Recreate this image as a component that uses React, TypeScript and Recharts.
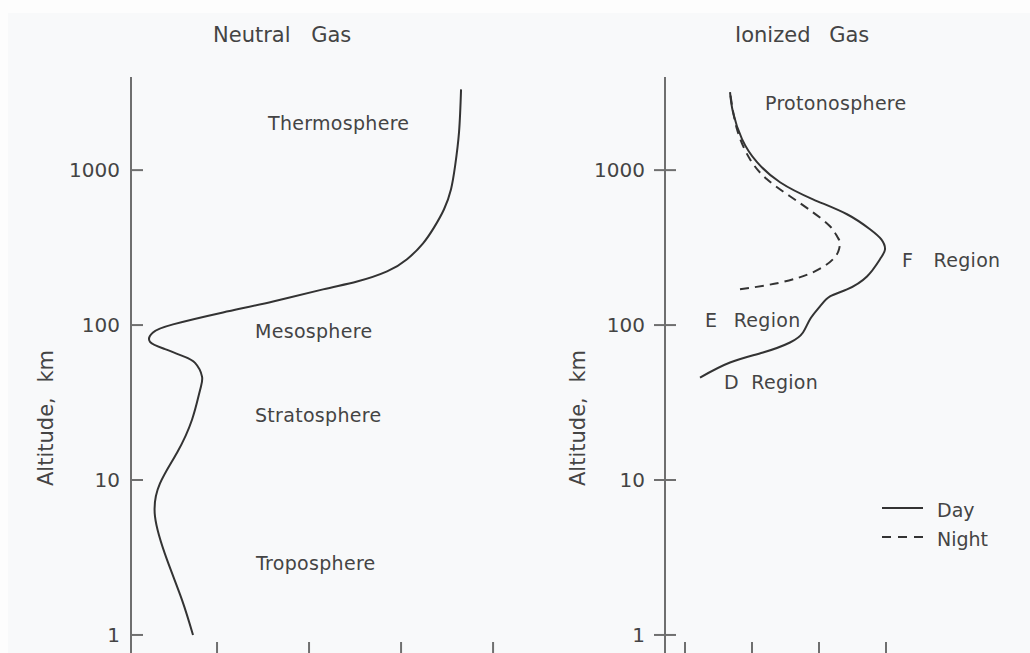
import React from "react";
import { ScatterChart, Scatter, XAxis, YAxis, Legend } from "recharts";

const FONT = "'DejaVu Sans', Verdana, sans-serif";
const INK = "#333333";
const AXIS = "#6f6f6f";
const TEXT = "#444444";

// altitude axis shared by both panels (km, log scale)
const ALT_TICKS = [1, 10, 100, 1000];
const ALT_DOMAIN: [number, number] = [0.7315, 3990];

// neutral gas temperature, measured in bottom-tick spacings
const NEUTRAL_ALT = [
  1, 1.68, 3.05, 5.8, 9.5, 15, 24.5, 38, 46.5, 57, 63, 70, 78, 89.6, 101, 120.6,
  142, 170, 191, 222, 266, 337, 427, 559, 753, 1060, 1757, 3320,
];
const NEUTRAL_TEMP = [
  0.739, 0.62, 0.457, 0.326, 0.38, 0.565, 0.728, 0.815, 0.837, 0.761, 0.63,
  0.435, 0.272, 0.304, 0.522, 1.065, 1.609, 2.152, 2.522, 2.848, 3.065, 3.239,
  3.359, 3.467, 3.543, 3.587, 3.63, 3.652,
];
const NEUTRAL_XTICKS = [1, 2, 3, 4];
const NEUTRAL_XDOMAIN: [number, number] = [0.065, 4.51];

// electron density (log decades from the first bottom tick)
const DAY_ALT = [
  45.8, 57.3, 66.5, 77.2, 89.6, 109, 132, 153, 170, 206, 266, 308, 357, 415,
  519, 648, 835, 1125, 1585, 2367, 3190,
];
const DAY_DENSITY = [
  0.224, 0.672, 1.164, 1.567, 1.761, 1.866, 2.015, 2.164, 2.418, 2.716, 2.91,
  2.985, 2.93, 2.761, 2.418, 1.91, 1.418, 1.075, 0.851, 0.716, 0.672,
];
const NIGHT_ALT = [170, 188, 219, 266, 310, 345, 374, 434, 534, 678, 873, 1176, 1838, 3190];
const NIGHT_DENSITY = [
  0.821, 1.418, 1.91, 2.209, 2.3, 2.31, 2.269, 2.164, 1.91, 1.567, 1.224, 0.97,
  0.776, 0.672,
];
const ION_XTICKS = [0, 1, 2, 3];
const ION_XDOMAIN: [number, number] = [-0.2985, 5.149];

const NEUTRAL_LABELS = ["Thermosphere", "Mesosphere", "Stratosphere", "Troposphere"];
const ION_LABELS = ["Protonosphere", "F Region", "E Region", "D Region"];

const DASH: Record<string, string | undefined> = { Day: undefined, Night: "9 6" };

const toPoints = (alt: number[], val: number[]) =>
  alt.map((a, i) => ({ alt: a, v: val[i] }));

const neutralData = toPoints(NEUTRAL_ALT, NEUTRAL_TEMP);
const dayData = toPoints(DAY_ALT, DAY_DENSITY);
const nightData = toPoints(NIGHT_ALT, NIGHT_DENSITY);

const noDot = () => <g />;
const noLabel = () => <g />;

// y tick: short mark (inner/outer of the axis line) plus right-aligned number
const altTick = (inner: number, outer: number, gap: number) => (props: any) => {
  const { x, y, payload } = props;
  return (
    <g>
      <line x1={x - outer} x2={x + inner} y1={y} y2={y} stroke={AXIS} strokeWidth={2} />
      <text
        x={x - gap}
        y={y + 7}
        textAnchor="end"
        fontSize={20}
        fontFamily={FONT}
        fill={TEXT}
      >
        {payload.value}
      </text>
    </g>
  );
};

const KeyContent = ({ payload }: any) => (
  <svg width={120} height={56} style={{ display: "block" }}>
    {(payload ?? []).map((p: any, i: number) => (
      <g key={p.value} transform={`translate(0, ${13 + i * 29})`}>
        <line x1={2} x2={43} y1={0} y2={0} stroke={INK} strokeWidth={2} strokeDasharray={DASH[p.value] ? "9 7" : undefined} />
        <text x={57} y={9} fontSize={19} fontFamily={FONT} fill={TEXT}>
          {p.value}
        </text>
      </g>
    ))}
  </svg>
);

const labelStyle = { fontSize: 19, fontFamily: FONT, fill: TEXT, letterSpacing: 0.3 };

export default function App() {
  return (
    <div
      style={{
        position: "absolute",
        left: 0,
        top: 0,
        width: 1030,
        height: 653,
        overflow: "hidden",
        background: "#fdfdfd",
      }}
    >
      <div style={{ position: "absolute", left: 8, top: 13, right: 0, bottom: 0, background: "#f8f9fa" }} />

      <div style={{ position: "absolute", left: 0, top: 0 }}>
        <ScatterChart width={540} height={680} margin={{ top: 77, right: 0, bottom: 23, left: 0 }}>
          <XAxis
            type="number"
            dataKey="v"
            domain={NEUTRAL_XDOMAIN}
            ticks={NEUTRAL_XTICKS}
            allowDataOverflow
            height={1}
            tickSize={-14}
            tick={noLabel}
            stroke={AXIS}
            strokeWidth={2}
          />
          <YAxis
            type="number"
            dataKey="alt"
            scale="log"
            domain={ALT_DOMAIN}
            ticks={ALT_TICKS}
            allowDataOverflow
            width={131}
            tickSize={0}
            tickMargin={0}
            tickLine={false}
            tick={altTick(12, 0, 11)}
            stroke={AXIS}
            strokeWidth={2}
          />
          <Scatter
            name="Temperature"
            data={neutralData}
            line={{ stroke: INK, strokeWidth: 2 }}
            lineJointType="natural"
            shape={noDot}
            isAnimationActive={false}
          />
        </ScatterChart>
      </div>

      <div style={{ position: "absolute", left: 540, top: 0 }}>
        <ScatterChart width={490} height={680} margin={{ top: 77, right: 0, bottom: 23, left: 0 }}>
          <XAxis
            type="number"
            dataKey="v"
            domain={ION_XDOMAIN}
            ticks={ION_XTICKS}
            allowDataOverflow
            height={1}
            tickSize={-14}
            tick={noLabel}
            stroke={AXIS}
            strokeWidth={2}
          />
          <YAxis
            type="number"
            dataKey="alt"
            scale="log"
            domain={ALT_DOMAIN}
            ticks={ALT_TICKS}
            allowDataOverflow
            width={125}
            tickSize={0}
            tickMargin={0}
            tickLine={false}
            tick={altTick(11, 11, 20)}
            stroke={AXIS}
            strokeWidth={2}
          />
          <Scatter
            name="Day"
            data={dayData}
            line={{ stroke: INK, strokeWidth: 2 }}
            lineJointType="natural"
            shape={noDot}
            isAnimationActive={false}
          />
          <Scatter
            name="Night"
            data={nightData}
            line={{ stroke: INK, strokeWidth: 2, strokeDasharray: DASH.Night }}
            lineJointType="natural"
            shape={noDot}
            isAnimationActive={false}
          />
          <Legend
            layout="vertical"
            align="center"
            verticalAlign="middle"
            content={KeyContent}
            wrapperStyle={{ position: "absolute", left: 340, top: 495, width: 120 }}
          />
        </ScatterChart>
      </div>

      {/* titles, axis names and region names */}
      <svg
        width={1030}
        height={653}
        style={{ position: "absolute", left: 0, top: 0, pointerEvents: "none" }}
      >
        <text x={213} y={42} fontSize={21} fontFamily={FONT} fill={TEXT} wordSpacing={14}>
          Neutral Gas
        </text>
        <text x={735} y={42} fontSize={21} fontFamily={FONT} fill={TEXT} wordSpacing={12}>
          Ionized Gas
        </text>
        <text
          transform="translate(53, 418) rotate(-90)"
          textAnchor="middle"
          fontSize={21}
          fontFamily={FONT}
          fill={TEXT}
          wordSpacing={8}
        >
          Altitude, km
        </text>
        <text
          transform="translate(585, 418) rotate(-90)"
          textAnchor="middle"
          fontSize={21}
          fontFamily={FONT}
          fill={TEXT}
          wordSpacing={8}
        >
          Altitude, km
        </text>

        <text x={268} y={130} {...labelStyle}>{NEUTRAL_LABELS[0]}</text>
        <text x={255} y={338} {...labelStyle}>{NEUTRAL_LABELS[1]}</text>
        <text x={255} y={422} {...labelStyle}>{NEUTRAL_LABELS[2]}</text>
        <text x={256} y={570} {...labelStyle}>{NEUTRAL_LABELS[3]}</text>

        <text x={765} y={110} {...labelStyle}>{ION_LABELS[0]}</text>
        <text x={902} y={267} {...labelStyle} wordSpacing={14}>{ION_LABELS[1]}</text>
        <text x={705} y={327} {...labelStyle} wordSpacing={10}>{ION_LABELS[2]}</text>
        <text x={724} y={389} {...labelStyle} wordSpacing={6}>{ION_LABELS[3]}</text>
      </svg>
    </div>
  );
}
